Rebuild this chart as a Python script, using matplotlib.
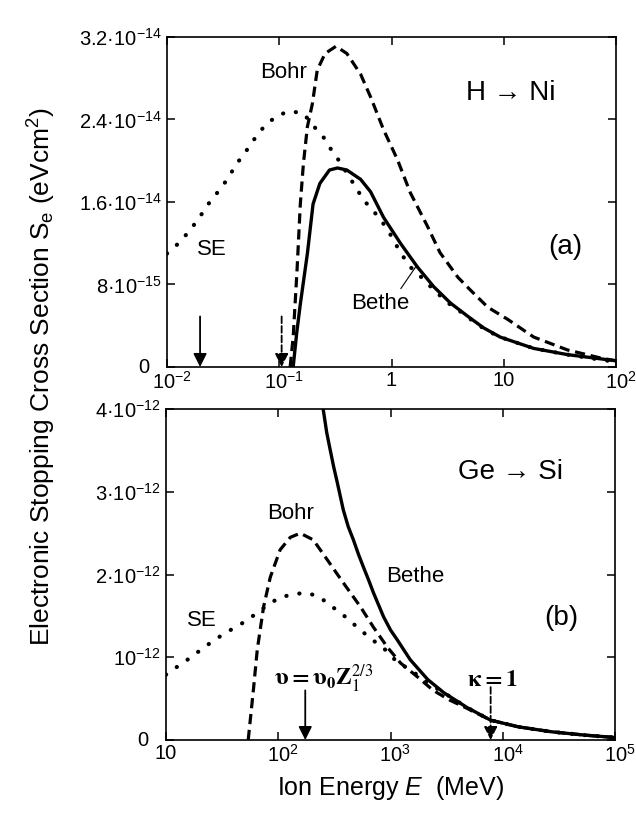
import matplotlib
matplotlib.use('Agg')
import matplotlib.pyplot as plt
from matplotlib.transforms import ScaledTranslation

plt.rcParams['font.family'] = ['Liberation Sans', 'DejaVu Sans']
plt.rcParams['mathtext.fontset'] = 'custom'
plt.rcParams['mathtext.rm'] = 'Liberation Sans'
plt.rcParams['mathtext.it'] = 'Liberation Sans:italic'
plt.rcParams['mathtext.bf'] = 'Liberation Sans:bold'

# (a) H -> Ni, energy in MeV, S in units of 1e-14 eVcm^2
e_se_a = [0.01, 0.013, 0.0164, 0.0197, 0.0237, 0.029, 0.035, 0.041, 0.0497, 0.059, 0.073,
          0.096, 0.125, 0.164, 0.197, 0.247, 0.297, 0.357, 0.41, 0.49, 0.56, 0.62, 0.8, 0.96, 1.2,
          1.47, 1.89, 2.37, 3.2, 4.2, 5.4, 6.9, 9.3, 18.5, 37, 73, 100]
s_se_a = [1.10, 1.21, 1.34, 1.46, 1.59, 1.71, 1.83, 1.96, 2.08, 2.20, 2.33,
          2.44, 2.48, 2.46, 2.35, 2.23, 2.09, 1.97, 1.86, 1.73, 1.62, 1.57, 1.43, 1.30, 1.11,
          0.97, 0.86, 0.75, 0.62, 0.53, 0.44, 0.36, 0.29, 0.18, 0.12, 0.07, 0.05]

e_bohr_a = [0.125, 0.133, 0.144, 0.154, 0.164, 0.178, 0.197, 0.218, 0.256, 0.32, 0.40, 0.53,
            0.65, 0.85, 1.13, 1.47, 2.1, 2.7, 3.9, 5.0, 7.2, 10.9, 18.5, 37, 73, 100]
s_bohr_a = [0.0, 0.29, 0.94, 1.58, 1.97, 2.33, 2.55, 2.88, 3.04, 3.11, 3.04, 2.84,
            2.62, 2.30, 2.01, 1.69, 1.36, 1.11, 0.87, 0.75, 0.58, 0.46, 0.29, 0.165, 0.087, 0.06]

e_bethe_a = [0.133, 0.143, 0.154, 0.178, 0.2, 0.23, 0.28, 0.33, 0.40, 0.53, 0.65, 0.85,
             1.2, 1.7, 2.37, 3.35, 4.8, 6.6, 9.3, 18.5, 37, 100]
s_bethe_a = [0.0, 0.33, 0.61, 1.10, 1.58, 1.78, 1.91, 1.93, 1.91, 1.82, 1.70, 1.45,
             1.20, 0.97, 0.78, 0.62, 0.49, 0.38, 0.29, 0.18, 0.12, 0.06]

# (b) Ge -> Si, S in units of 1e-12 eVcm^2
e_se_b = [10, 12.7, 16.7, 21.8, 28.5, 36.5, 47.5, 61, 80, 102, 133, 174, 227, 290, 380,
          500, 660, 870, 1150, 1500, 2150, 3000, 4850, 7800, 13700, 27000, 53000, 100000]
s_se_b = [0.79, 0.89, 1.0, 1.12, 1.23, 1.32, 1.41, 1.51, 1.63, 1.72, 1.76, 1.78, 1.74, 1.63, 1.51,
          1.37, 1.23, 1.11, 0.94, 0.85, 0.69, 0.57, 0.39, 0.24, 0.16, 0.10, 0.06, 0.03]

e_bohr_b = [54, 60, 65, 74, 85, 104, 128, 157, 205, 273, 380, 540, 700, 940, 1230, 1750,
            2400, 3400, 4850, 7800, 13700, 27000, 53000, 100000]
s_bohr_b = [0.0, 0.60, 1.09, 1.61, 1.97, 2.30, 2.45, 2.50, 2.42, 2.18, 1.90, 1.61, 1.37, 1.12, 0.93, 0.76,
            0.60, 0.48, 0.38, 0.24, 0.16, 0.10, 0.06, 0.03]

e_bethe_b = [240, 252, 270, 291, 312, 336, 380, 420, 467, 520, 574, 640, 705, 867, 1000, 1150,
             1500, 2150, 3000, 4850, 7800, 13700, 27000, 53000, 100000]
s_bethe_b = [4.25, 3.99, 3.72, 3.50, 3.30, 3.11, 2.78, 2.58, 2.42, 2.24, 2.09, 1.93, 1.78, 1.49, 1.33, 1.21,
             0.97, 0.73, 0.57, 0.39, 0.24, 0.16, 0.10, 0.06, 0.03]

# arrows: (energy, top of arrow, line style)
arrows_a = [(0.0197, 0.49e-14, '-'), (0.105, 0.49e-14, '--')]
arrows_b = [(174, 0.60e-12, '-'), (7800, 0.64e-12, '--')]

xticks_a = [1e-2, 1e-1, 1, 10, 100]
xlabels_a = ['10$^{-2}$', '10$^{-1}$', '1', '10', '10$^{2}$']
yticks_a = [0, 0.8e-14, 1.6e-14, 2.4e-14, 3.2e-14]
ylabels_a = ['0', '8\u00b710$^{-15}$', '1.6\u00b710$^{-14}$', '2.4\u00b710$^{-14}$', '3.2\u00b710$^{-14}$']

xticks_b = [10, 1e2, 1e3, 1e4, 1e5]
xlabels_b = ['10', '10$^{2}$', '10$^{3}$', '10$^{4}$', '10$^{5}$']
yticks_b = [0, 1e-12, 2e-12, 3e-12, 4e-12]
ylabels_b = ['0', '10$^{-12}$', '2\u00b710$^{-12}$', '3\u00b710$^{-12}$', '4\u00b710$^{-12}$']

dotted = dict(color='k', lw=3.0, linestyle=(0, (0.05, 3.1)), dash_capstyle='round')
dashed = dict(color='k', lw=2.3, linestyle=(0, (3.2, 1.8)))
solid = dict(color='k', lw=2.4)

fig = plt.figure(figsize=(6.36, 8.15), dpi=100)
ax1 = fig.add_axes([0.2626, 0.5497, 0.706, 0.4049])
ax2 = fig.add_axes([0.261, 0.092, 0.706, 0.406])


def style_axes(ax, xticks, xlabels, yticks, ylabels):
    ax.set_xscale('log')
    ax.set_xticks(xticks)
    ax.set_xticklabels(xlabels)
    ax.set_yticks(yticks)
    ax.set_yticklabels(ylabels)
    ax.minorticks_off()
    ax.tick_params(direction='in', top=True, right=True, length=6, width=1.1,
                   labelsize=14.5, pad=4)
    ax.tick_params(axis='x', pad=3)
    for sp in ax.spines.values():
        sp.set_linewidth(1.2)


def draw_arrows(ax, arrows):
    for e, top, ls in arrows:
        ax.annotate('', xy=(e, 0), xytext=(e, top),
                    arrowprops=dict(arrowstyle='-|>', color='k', lw=1.3, linestyle=ls,
                                    mutation_scale=20, shrinkA=0, shrinkB=0))


def nudge_labels(ax):
    # the "0" sits further left; labels with exponents are centred on the "10"
    lab = ax.get_yticklabels()[0]
    lab.set_transform(lab.get_transform() + ScaledTranslation(-9 / 72, 1 / 72, fig.dpi_scale_trans))
    for lab in ax.get_xticklabels():
        if '$' in lab.get_text():
            lab.set_transform(lab.get_transform() + ScaledTranslation(3.5 / 72, 0, fig.dpi_scale_trans))


s = 1e-14
ax1.plot(e_se_a, [v * s for v in s_se_a], **dotted)
ax1.plot(e_bohr_a, [v * s for v in s_bohr_a], **dashed)
ax1.plot(e_bethe_a, [v * s for v in s_bethe_a], **solid)
ax1.set_xlim(1e-2, 1e2)
ax1.set_ylim(0, 3.2e-14)
style_axes(ax1, xticks_a, xlabels_a, yticks_a, ylabels_a)
draw_arrows(ax1, arrows_a)
ax1.text(0.109, 2.86e-14, 'Bohr', fontsize=16, ha='center', va='center')
ax1.text(0.0252, 1.14e-14, 'SE', fontsize=16, ha='center', va='center')
ax1.annotate('Bethe', xy=(1.64, 0.97e-14), xytext=(0.80, 0.62e-14), fontsize=16,
             ha='center', va='center',
             arrowprops=dict(arrowstyle='-', color='k', lw=0.8, shrinkA=1, shrinkB=0,
                             relpos=(0.8, 1.0)))
ax1.text(0.766, 0.83, 'H \u2192 Ni', fontsize=20, ha='center', va='center', transform=ax1.transAxes)
ax1.text(0.886, 0.364, '(a)', fontsize=20, ha='center', va='center', transform=ax1.transAxes)

s = 1e-12
ax2.plot(e_se_b, [v * s for v in s_se_b], **dotted)
ax2.plot(e_bohr_b, [v * s for v in s_bohr_b], **dashed)
ax2.plot(e_bethe_b, [v * s for v in s_bethe_b], **solid)
ax2.set_xlim(10, 1e5)
ax2.set_ylim(0, 4e-12)
style_axes(ax2, xticks_b, xlabels_b, yticks_b, ylabels_b)
draw_arrows(ax2, arrows_b)
ax2.text(128, 2.74e-12, 'Bohr', fontsize=16, ha='center', va='center')
ax2.text(21, 1.45e-12, 'SE', fontsize=16, ha='center', va='center')
ax2.text(1670, 1.98e-12, 'Bethe', fontsize=16, ha='center', va='center')
ax2.text(0.768, 0.81, 'Ge \u2192 Si', fontsize=20, ha='center', va='center', transform=ax2.transAxes)
ax2.text(0.88, 0.369, '(b)', fontsize=20, ha='center', va='center', transform=ax2.transAxes)
ax2.text(0.24, 0.163, r'$\mathbf{\upsilon = \upsilon_0}\mathbf{Z}_{\mathit{1}}^{\mathit{2/3}}$',
         fontsize=17, ha='left', va='baseline', transform=ax2.transAxes, math_fontfamily='stix')
ax2.text(0.671, 0.163, r'$\mathbf{\kappa = 1}$', fontsize=17, ha='left', va='baseline',
         transform=ax2.transAxes, math_fontfamily='stix')

nudge_labels(ax1)
nudge_labels(ax2)

ax2.set_xlabel('Ion Energy $E$  (MeV)', fontsize=18, labelpad=6)
fig.text(0.066, 1 - 377 / 815, 'Electronic Stopping Cross Section S$_{\\mathrm{e}}$ (eVcm$^{2}$)',
         rotation=90, fontsize=19, ha='center', va='center')

fig.savefig('out.png', dpi=100)
